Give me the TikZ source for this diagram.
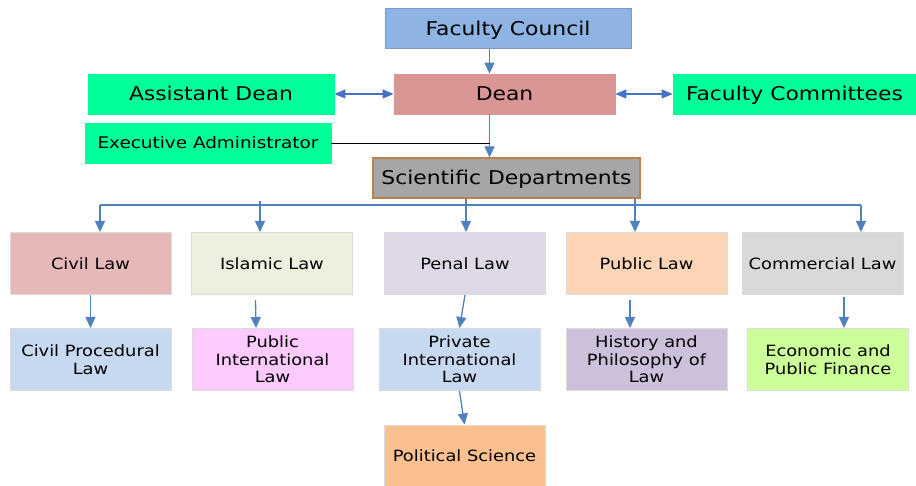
\documentclass[tikz,border=0pt]{standalone}
\usepackage{fontspec}
\setmainfont[FakeStretch=1.15]{DejaVu Sans}
\usetikzlibrary{arrows.meta}
\definecolor{cFC}{HTML}{8EB4E3}
\definecolor{cFCd}{HTML}{7A9CCB}
\definecolor{cDean}{HTML}{D99694}
\definecolor{cGreen}{HTML}{00FF99}
\definecolor{cSci}{HTML}{A6A6A6}
\definecolor{cSciB}{HTML}{C0804D}
\definecolor{cCivil}{HTML}{E6B9B8}
\definecolor{cIsl}{HTML}{EBF1DE}
\definecolor{cPen}{HTML}{DFD9E7}
\definecolor{cPub}{HTML}{FBD5B5}
\definecolor{cCom}{HTML}{D9D9D9}
\definecolor{cBlue}{HTML}{C6D9F1}
\definecolor{cPink}{HTML}{FDCAFE}
\definecolor{cHist}{HTML}{CCC0DA}
\definecolor{cEco}{HTML}{CCFF99}
\definecolor{cPol}{HTML}{FAC090}
\definecolor{cArr}{HTML}{4F81BD}
\definecolor{cArr2}{HTML}{4472C4}
\definecolor{cEdge}{HTML}{DCDCDC}
\tikzset{
  topbox/.style={rectangle, inner sep=0pt, line width=0.8pt, minimum width=246pt, minimum height=40pt, text height=14pt, text depth=0pt, font=\fontsize{19}{21}\selectfont},
  dept/.style={rectangle, inner sep=0pt, draw=cEdge, line width=1pt, minimum width=161pt, minimum height=62pt, align=center, font=\fontsize{15.5}{17.6}\selectfont},
  arr/.style={draw=cArr, line width=1.3pt, -{Triangle[length=11pt,width=10pt]}},
  darr/.style={draw=cArr2, line width=1.1pt, {Triangle[length=11pt,width=9pt]}-{Triangle[length=11pt,width=9pt]}},
  conn/.style={draw=cArr, line width=1.3pt}
}
\begin{document}
\begin{tikzpicture}[x=1pt,y=-1pt]
\useasboundingbox (0,0) rectangle (916,486);
% top
\node[topbox, fill=cFC, draw=cFCd] (fc) at (508,28.5) {Faculty Council};
\node[topbox, fill=cDean, draw=cDean, minimum width=221pt] (dean) at (504.5,94) {Dean};
\node[topbox, fill=cGreen, draw=cGreen] (ad) at (211,94) {Assistant Dean};
\node[topbox, fill=cGreen, draw=cGreen, minimum width=243pt] (fcm) at (794.5,94) {Faculty Committees};
\node[topbox, fill=cGreen, draw=cGreen, text height=12pt, font=\fontsize{16}{18}\selectfont] (ea) at (208,143) {Executive Administrator};
\node[topbox, fill=cSci, draw=cSciB, line width=1.3pt, minimum width=267pt] (sci) at (506.5,178) {Scientific Departments};
% row 1
\node[dept, fill=cCivil] (civ) at (90.5,263.5) {Civil Law};
\node[dept, fill=cIsl] (isl) at (272,263.5) {Islamic Law};
\node[dept, fill=cPen] (pen) at (465,263.5) {Penal Law};
\node[dept, fill=cPub] (pub) at (646.5,263.5) {Public Law};
\node[dept, fill=cCom] (com) at (822.5,263.5) {Commercial Law};
% row 2
\node[dept, fill=cBlue] (cpl) at (90.5,359.5) {Civil Procedural\\Law};
\node[dept, fill=cPink] (pil) at (272.5,359.5) {Public\\International\\Law};
\node[dept, fill=cBlue] (pri) at (459.5,359.5) {Private\\International\\Law};
\node[dept, fill=cHist] (hpl) at (646.5,359.5) {History and\\Philosophy of\\Law};
\node[dept, fill=cEco] (epf) at (828,359.5) {Economic and\\Public Finance};
% row 3
\node[dept, fill=cPol] (pol) at (464.5,456) {Political Science};
% top connectors
\draw[arr] ([xshift=-18.5pt]fc.south) -- ([xshift=-15pt]dean.north);
\draw[darr] (ad.east) -- (dean.west);
\draw[darr] (dean.east) -- (fcm.west);
\coordinate (mid) at (489.5,143);
\draw[arr] ([xshift=-15pt]dean.south) -- ([xshift=-17pt]sci.north);
\draw[black, line width=0.8pt] (ea.east) -- (mid);
% bus
\coordinate (busL) at (100,205);
\coordinate (busR) at (861,205);
\coordinate (islT) at (260,201);
\draw[conn] (busL) -- (busR);
\draw[arr] (busL) -- (busL |- civ.north);
\draw[arr] (islT) -- (islT |- isl.north);
\draw[arr] ([xshift=-40.5pt]sci.south) -- ([xshift=1pt]pen.north);
\draw[arr] ([xshift=128.5pt]sci.south) -- ([xshift=-11.5pt]pub.north);
\draw[arr] (busR) -- (busR |- com.north);
% row1 -> row2
\draw[arr] (civ.south) -- (cpl.north);
\draw[arr] ([xshift=-16.5pt,yshift=-5pt]isl.south) -- ([xshift=-16.5pt]pil.north);
\draw[arr] (pen.south) -- (pri.north);
\draw[arr] ([xshift=-16.5pt,yshift=-5pt]pub.south) -- ([xshift=-16.5pt]hpl.north);
\draw[arr] ([xshift=21.5pt,yshift=-2pt]com.south) -- ([xshift=16pt]epf.north);
\draw[arr] (pri.south) -- (pol.north);
\end{tikzpicture}
\end{document}
